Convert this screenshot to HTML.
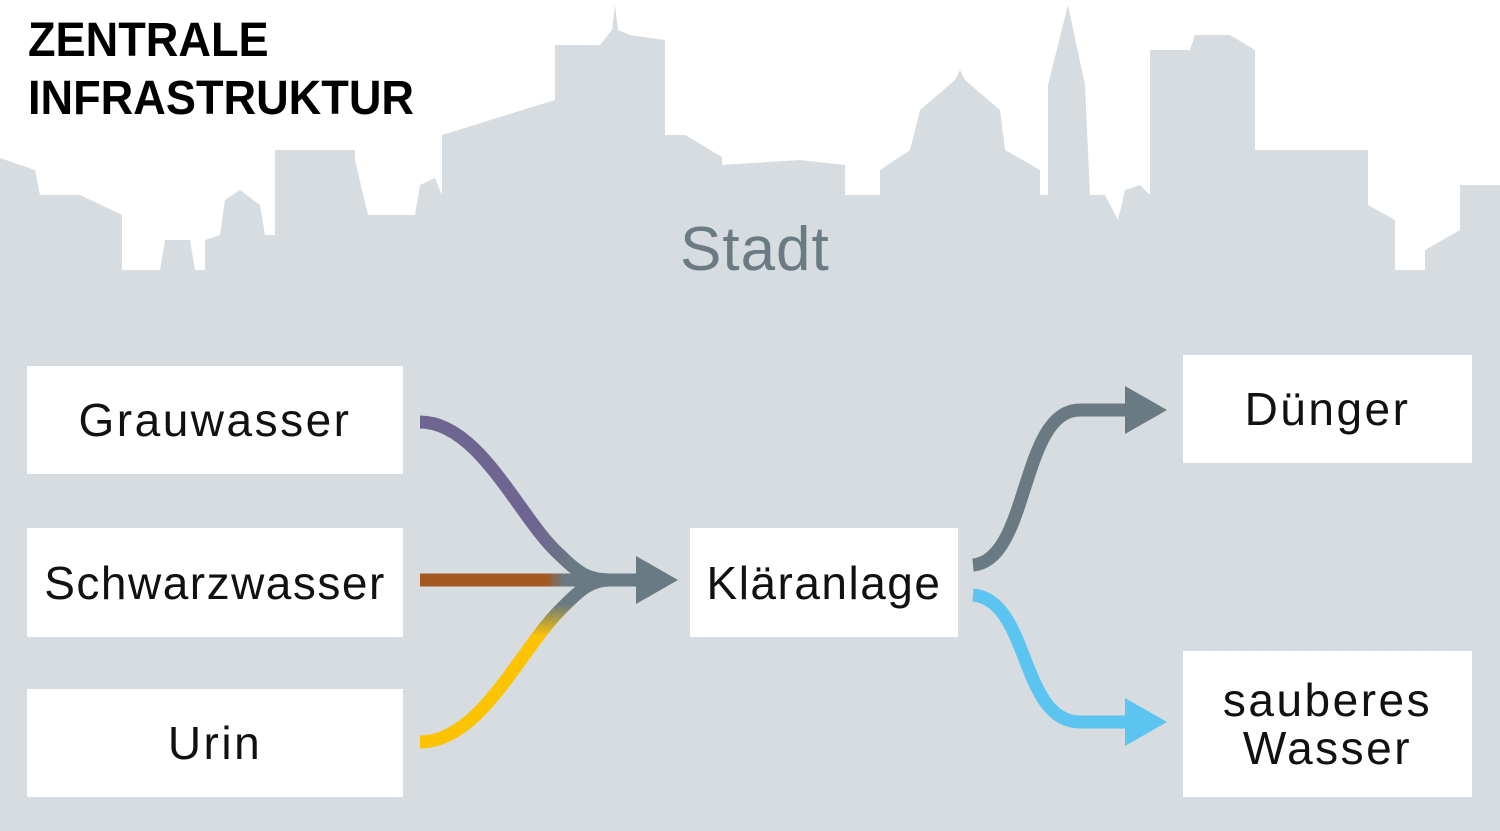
<!DOCTYPE html><html><head><style>
body{margin:0;width:1500px;height:831px;overflow:hidden;background:#fff;font-family:"Liberation Sans",sans-serif}
.b{position:absolute;background:#fff;display:flex;align-items:center;justify-content:center;text-align:center;font-size:46px;color:#111;line-height:48px;letter-spacing:2.5px}
</style></head><body>
<svg width="1500" height="831" style="position:absolute;left:0;top:0">
<defs>
<linearGradient id="gp" gradientUnits="userSpaceOnUse" x1="420" y1="0" x2="600" y2="0"><stop offset="0.65" stop-color="#6f6591"/><stop offset="0.85" stop-color="#6a7a82"/></linearGradient>
<linearGradient id="gb" gradientUnits="userSpaceOnUse" x1="420" y1="0" x2="600" y2="0"><stop offset="0.7" stop-color="#a5581e"/><stop offset="0.8" stop-color="#6a7a82"/></linearGradient>
<linearGradient id="gy" gradientUnits="userSpaceOnUse" x1="0" y1="742" x2="0" y2="580"><stop offset="0.65" stop-color="#fcc400"/><stop offset="0.85" stop-color="#6a7a82"/></linearGradient>
</defs>
<polygon fill="#d7dce0" points="0,158 35,170 40,195 80,195 122,215 122,270 160,270 165,240 190,240 195,270 205,270 205,240 220,235 225,200 240,190 260,205 265,235 275,235 275,150 355,150 355,160 368,215 415,215 420,185 435,178 442,195 442,135 555,100 555,45 600,45 612,30 615,5 618,30 630,35 665,40 665,135 685,135 722,157 722,165 800,160 845,165 845,195 880,195 880,170 910,150 920,110 955,80 960,70 965,80 1000,110 1005,150 1040,170 1040,195 1048,195 1048,85 1068,5 1085,85 1090,195 1105,195 1118,220 1125,190 1140,185 1150,195 1150,50 1190,50 1195,35 1230,35 1255,50 1255,150 1368,150 1368,205 1395,220 1395,270 1425,270 1425,250 1460,230 1460,185 1500,185 1500,831 0,831"/>
<path d="M420,422 C480,422 520,520 560,555 C580,575 590,580 610,580" stroke="url(#gp)" stroke-width="13" fill="none"/>
<path d="M420,742 C480,742 520,650 560,610 C580,590 590,580 610,580" stroke="url(#gy)" stroke-width="13" fill="none"/>
<path d="M420,580 L640,580" stroke="url(#gb)" stroke-width="13" fill="none"/>
<polygon points="636,556 678,580 636,604" fill="#6a7a82"/>
<path d="M973,565 C1030,560 1020,410 1080,410 L1130,410" stroke="#6a7a82" stroke-width="13" fill="none"/>
<polygon points="1125,386 1167,410 1125,434" fill="#6a7a82"/>
<path d="M973,595 C1030,600 1020,722 1080,722 L1130,722" stroke="#5bc4f1" stroke-width="13" fill="none"/>
<polygon points="1125,698 1167,722 1125,746" fill="#5bc4f1"/>
</svg>
<div style="position:absolute;left:28px;top:12px;font-size:48px;font-weight:bold;line-height:58px;color:#000;transform:scaleX(0.94);transform-origin:left">ZENTRALE<br>INFRASTRUKTUR</div>
<div style="position:absolute;left:680px;top:214px;font-size:62px;color:#6b7b83;letter-spacing:1px">Stadt</div>
<div class="b" style="left:27px;top:366px;width:376px;height:108px">Grauwasser</div>
<div class="b" style="left:27px;top:528px;width:376px;height:109px;letter-spacing:1.5px">Schwarzwasser</div>
<div class="b" style="left:27px;top:689px;width:376px;height:108px">Urin</div>
<div class="b" style="left:690px;top:528px;width:268px;height:109px;letter-spacing:1.5px">Kläranlage</div>
<div class="b" style="left:1183px;top:355px;width:289px;height:108px">Dünger</div>
<div class="b" style="left:1183px;top:651px;width:289px;height:146px">sauberes<br>Wasser</div>
</body></html>
